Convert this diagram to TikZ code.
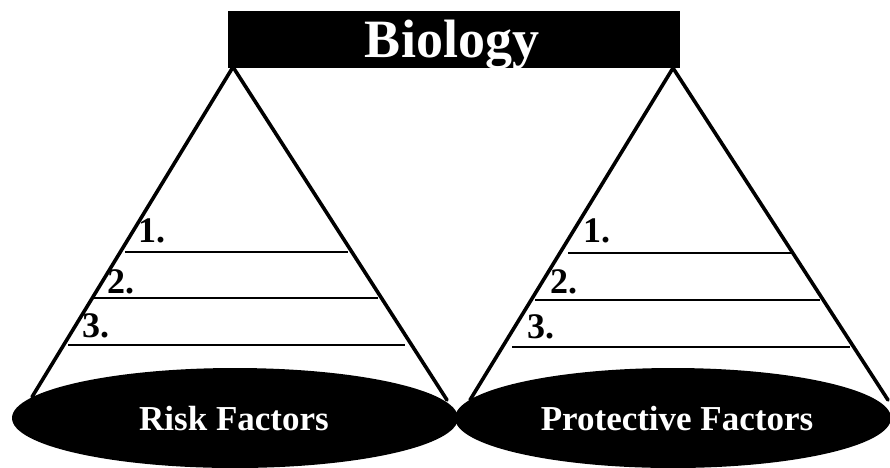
\documentclass[tikz,border=0pt]{standalone}
\usepackage{fontspec}
\setmainfont{Liberation Serif}
\usetikzlibrary{shapes.geometric}
\begin{document}
\begin{tikzpicture}[x=1pt,y=-1pt,
  cone/.style={line width=3.6pt,line cap=round},
  rule/.style={line width=1.6pt},
  base/.style={ellipse,fill=black,inner sep=0pt},
  label/.style={anchor=base,inner sep=0pt,text=white,font=\fontsize{35}{35}\selectfont\bfseries},
  num/.style={anchor=base west,inner sep=0pt,font=\fontsize{36}{36}\selectfont\bfseries}]
\useasboundingbox (0,0) rectangle (890,467);
% cone apexes and rim points
\coordinate (La) at (233,67);
\coordinate (Ll) at (32,397);
\coordinate (Lr) at (447,400);
\coordinate (Ra) at (673,68);
\coordinate (Rl) at (470,400);
\coordinate (Rr) at (888,400);
\draw[cone] (Ll) -- (La) -- (Lr);
\draw[cone] (Rl) -- (Ra) -- (Rr);
% title bar
\node[fill=black,minimum width=452pt,minimum height=57pt,inner sep=0pt] (bio) at (454,39.5) {};
\begin{scope}
\clip (228,11) rectangle (680,68);
\node[anchor=base,inner sep=0pt,text=white,font=\fontsize{54}{54}\selectfont\bfseries] (biot) at (452,57) {Biology};
\end{scope}
% lines left
\coordinate (l1a) at (125,252); \coordinate (l1b) at (348,252);
\coordinate (l2a) at (92,298);  \coordinate (l2b) at (378,298);
\coordinate (l3a) at (68,345);  \coordinate (l3b) at (405,345);
\draw[rule] (l1a) -- (l1b);
\draw[rule] (l2a) -- (l2b);
\draw[rule] (l3a) -- (l3b);
% lines right
\coordinate (r1a) at (568,253); \coordinate (r1b) at (792,253);
\coordinate (r2a) at (535,300); \coordinate (r2b) at (820,300);
\coordinate (r3a) at (512,347); \coordinate (r3b) at (850,347);
\draw[rule] (r1a) -- (r1b);
\draw[rule] (r2a) -- (r2b);
\draw[rule] (r3a) -- (r3b);
% numbers
\node[num] (n1) at (138,242) {1.};
\node[num] (n2) at (107,293) {2.};
\node[num] (n3) at (82,337) {3.};
\node[num] (m1) at (583,242) {1.};
\node[num] (m2) at (550,293) {2.};
\node[num] (m3) at (527,338) {3.};
% bases
\node[base,minimum width=446pt,minimum height=100pt] (risk) at (235,418) {};
\node[base,minimum width=436pt,minimum height=100pt] (prot) at (673,418) {};
\node[label] (riskt) at (234,430) {Risk Factors};
\node[label] (prott) at (677,430) {Protective Factors};
\end{tikzpicture}
\end{document}
